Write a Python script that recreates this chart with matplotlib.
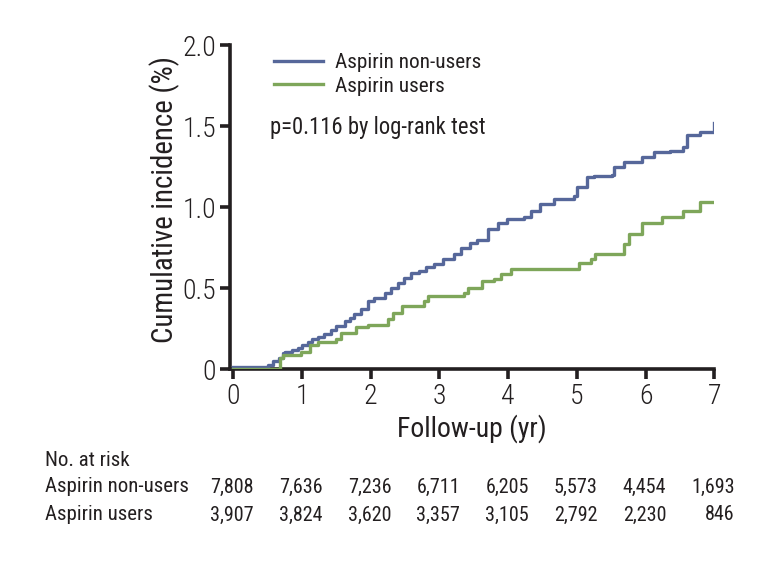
import matplotlib
matplotlib.use("Agg")
import matplotlib.pyplot as plt

plt.rcParams['font.family'] = ['Roboto Condensed', 'DejaVu Sans']

# ---- data ----
nonusers_t = [0, 0.50, 0.58, 0.67, 0.72, 0.75, 0.85, 0.94, 1.0, 1.08, 1.15, 1.23, 1.32, 1.42, 1.5,
              1.62, 1.7, 1.76, 1.85, 1.96, 2.05, 2.2, 2.3, 2.39, 2.48, 2.58, 2.7, 2.8, 2.92, 3.05,
              3.21, 3.31, 3.45, 3.55, 3.7, 3.85, 3.99, 4.23, 4.33, 4.47, 4.67, 4.96, 5.0, 5.15,
              5.25, 5.51, 5.54, 5.68, 5.95, 6.12, 6.36, 6.55, 6.60, 6.80, 6.99, 7.0]
nonusers_y = [0.012, 0.03, 0.05, 0.07, 0.10, 0.11, 0.12, 0.13, 0.15, 0.17, 0.185, 0.20, 0.22, 0.245,
              0.265, 0.297, 0.315, 0.339, 0.37, 0.42, 0.44, 0.47, 0.50, 0.534, 0.565, 0.596, 0.61,
              0.63, 0.648, 0.68, 0.71, 0.75, 0.78, 0.80, 0.865, 0.90, 0.927, 0.937, 0.98, 1.02,
              1.05, 1.07, 1.127, 1.185, 1.195, 1.20, 1.247, 1.277, 1.308, 1.34, 1.35, 1.37, 1.443,
              1.463, 1.52, 1.52]
users_t = [0, 0.68, 0.72, 0.99, 1.12, 1.23, 1.50, 1.57, 1.79, 1.96, 2.25, 2.32, 2.46, 2.78, 2.83,
           3.35, 3.41, 3.62, 3.80, 3.89, 4.04, 5.03, 5.20, 5.27, 5.68, 5.76, 5.95, 6.24, 6.55,
           6.80, 7.0]
users_y = [0.0, 0.07, 0.09, 0.11, 0.15, 0.17, 0.19, 0.225, 0.26, 0.277, 0.31, 0.35, 0.39, 0.42,
           0.452, 0.47, 0.50, 0.545, 0.56, 0.586, 0.617, 0.658, 0.68, 0.714, 0.772, 0.834, 0.90,
           0.937, 0.978, 1.03, 1.03]

risk_times = [0, 1, 2, 3, 4, 5, 6, 7]
risk_nonusers = ["7,808", "7,636", "7,236", "6,711", "6,205", "5,573", "4,454", "1,693"]
risk_users = ["3,907", "3,824", "3,620", "3,357", "3,105", "2,792", "2,230", "846"]
series_labels = ["Aspirin non-users", "Aspirin users"]
yticks = [0, 0.5, 1.0, 1.5, 2.0]
ytick_labels = ["0", "0.5", "1.0", "1.5", "2.0"]
xticks = [0, 1, 2, 3, 4, 5, 6, 7]

blue = "#56679a"
green = "#7ea65a"
txt = "#231f20"

fig = plt.figure(figsize=(7.81, 5.64), dpi=100)
ax = fig.add_axes([0.2945, 0.345, 0.62, 0.575])

ax.plot(nonusers_t, nonusers_y, drawstyle='steps-post', color=blue, lw=2.4, label=series_labels[0], zorder=3)
ax.plot(users_t, users_y, drawstyle='steps-post', color=green, lw=2.4, label=series_labels[1], zorder=3)

ax.set_xlim(-0.05, 7.0)
ax.set_ylim(0, 2.0)
ax.set_xticks(xticks)
ax.set_yticks(yticks)
ax.set_yticklabels(ytick_labels)
for s in ['top', 'right']:
    ax.spines[s].set_visible(False)
for s in ['left', 'bottom']:
    ax.spines[s].set_linewidth(2.6)
    ax.spines[s].set_color(txt)
ax.tick_params(axis='both', width=2.6, length=7, labelsize=20, colors=txt, pad=3)
for lab in ax.get_xticklabels() + ax.get_yticklabels():
    lab.set_fontweight('light')
ax.set_ylabel("Cumulative incidence (%)", fontsize=20.8, color=txt)
ax.yaxis.set_label_coords(-0.103, 0.523)
ax.set_xlabel("Follow-up (yr)", fontsize=20, color=txt, labelpad=3)

leg = ax.legend(loc='upper left', bbox_to_anchor=(0.065, 1.015), frameon=False, fontsize=15.3,
                handlelength=2.3, handletextpad=0.55, labelspacing=0.22, labelcolor=txt,
                borderaxespad=0.2)
ax.text(0.083, 0.745, "p=0.116 by log-rank test", transform=ax.transAxes, fontsize=16.3, color=txt,
        va='center', ha='left')

# risk table
trans = matplotlib.transforms.blended_transform_factory(ax.transData, fig.transFigure)
fig.text(45 / 781, 1 - 460 / 564, "No. at risk", fontsize=15, color=txt, va='center', ha='left')
fig.text(45 / 781, 1 - 487 / 564, series_labels[0], fontsize=15, color=txt, va='center', ha='left')
fig.text(45 / 781, 1 - 515 / 564, series_labels[1], fontsize=15, color=txt, va='center', ha='left')
for t, a, b in zip(risk_times, risk_nonusers, risk_users):
    ax.text(t + 0.3, 1 - 487 / 564, a, transform=trans, fontsize=14.5, color=txt, va='center', ha='right')
    ax.text(t + 0.3, 1 - 515 / 564, b, transform=trans, fontsize=14.5, color=txt, va='center', ha='right')

fig.savefig("out.png", dpi=100)
